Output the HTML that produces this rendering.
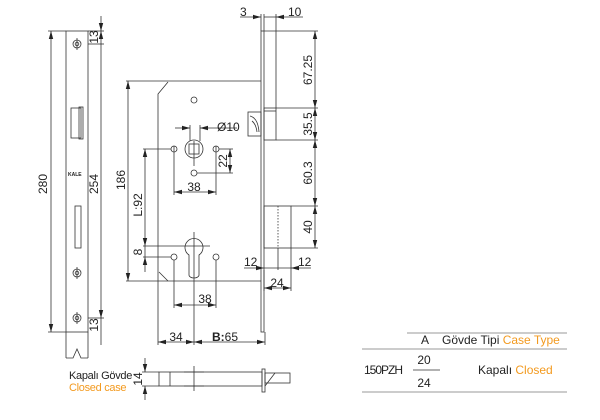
<!DOCTYPE html>
<html><head><meta charset="utf-8"><style>
html,body{margin:0;padding:0;background:#fff;}
svg{display:block;}
text{font-family:"Liberation Sans",sans-serif;font-size:12px;fill:#222;}
.o{fill:#f39a1f;}
</style></head><body>
<svg width="600" height="420" viewBox="0 0 600 420" xmlns="http://www.w3.org/2000/svg">
<defs>
<marker id="a" markerWidth="8" markerHeight="6" refX="8" refY="3" orient="auto-start-reverse" markerUnits="userSpaceOnUse"><path d="M0,0.8 L8,3 L0,5.2z" fill="#222"/></marker>
</defs>
<g stroke="#333" stroke-width="0.8" fill="none">
<rect x="66" y="31" width="22" height="301"/>
<line x1="66" y1="332" x2="66" y2="358"/><line x1="88" y1="332" x2="88" y2="358"/>
<path d="M66,358 L73,358 L77,349 L81,358 L88,358"/>
<circle cx="77" cy="44" r="4"/><circle cx="77" cy="44" r="1.8"/>
<circle cx="77" cy="273" r="4"/><circle cx="77" cy="273" r="1.8"/>
<circle cx="77" cy="318" r="4"/><circle cx="77" cy="318" r="1.8"/>
<line x1="77" y1="38" x2="77" y2="50"/><line x1="77" y1="267" x2="77" y2="279"/><line x1="77" y1="312" x2="77" y2="324"/>
<rect x="71" y="108" width="10" height="30"/><rect x="79" y="107" width="4" height="32"/>
<rect x="75" y="206" width="6" height="42"/>
<line x1="48" y1="31" x2="66" y2="31"/><line x1="48" y1="332" x2="66" y2="332"/>
<line x1="51" y1="31" x2="51" y2="332" marker-start="url(#a)" marker-end="url(#a)"/>
<line x1="88" y1="44" x2="104" y2="44"/><line x1="88" y1="318" x2="104" y2="318"/>
<line x1="101" y1="16" x2="101" y2="31" marker-end="url(#a)"/>
<line x1="101" y1="31" x2="101" y2="318" marker-start="url(#a)" marker-end="url(#a)"/>
<line x1="101" y1="318" x2="101" y2="345"/>
<line x1="88" y1="31" x2="104" y2="31"/>
<line x1="126" y1="81" x2="261" y2="81"/><line x1="126" y1="281" x2="261" y2="281"/>
<line x1="128" y1="81" x2="128" y2="281" marker-start="url(#a)" marker-end="url(#a)"/>
<path d="M168,82 L158,94 L158,345"/><path d="M159,272 L168,281"/>
<rect x="261" y="31" width="3" height="301"/>
<line x1="264" y1="31" x2="318" y2="31"/>
<line x1="276" y1="31" x2="276" y2="108"/>
<rect x="264" y="108" width="12" height="32"/><line x1="264" y1="111" x2="276" y2="111"/>
<line x1="276" y1="108" x2="318" y2="108"/><line x1="276" y1="140" x2="318" y2="140"/>
<rect x="248" y="112" width="13" height="24"/>
<path d="M250,116 Q258,118 259,132 M252,121 Q256,124 257,132"/>
<rect x="264" y="206" width="27" height="42"/>
<line x1="278" y1="206" x2="278" y2="248" stroke-dasharray="1.5,1.5"/>
<line x1="291" y1="206" x2="318" y2="206"/><line x1="291" y1="248" x2="318" y2="248"/>
<line x1="315" y1="31" x2="315" y2="108" marker-start="url(#a)" marker-end="url(#a)"/>
<line x1="315" y1="108" x2="315" y2="140" marker-start="url(#a)" marker-end="url(#a)"/>
<line x1="315" y1="140" x2="315" y2="206" marker-start="url(#a)" marker-end="url(#a)"/>
<line x1="315" y1="206" x2="315" y2="248" marker-start="url(#a)" marker-end="url(#a)"/>
<line x1="261" y1="14" x2="261" y2="31"/><line x1="264" y1="14" x2="264" y2="31"/><line x1="276" y1="14" x2="276" y2="31"/>
<line x1="240" y1="17" x2="261" y2="17" marker-end="url(#a)"/>
<line x1="303" y1="17" x2="276" y2="17" marker-end="url(#a)"/>
<line x1="264" y1="17" x2="276" y2="17"/>
<line x1="278" y1="248" x2="278" y2="270"/><line x1="291" y1="248" x2="291" y2="291"/><line x1="264" y1="270" x2="264" y2="291"/>
<line x1="244" y1="268" x2="264" y2="268" marker-end="url(#a)"/>
<line x1="311" y1="268" x2="291" y2="268" marker-end="url(#a)"/>
<line x1="264" y1="268" x2="291" y2="268"/>
<line x1="264" y1="288" x2="291" y2="288" marker-start="url(#a)" marker-end="url(#a)"/>
<circle cx="194" cy="100" r="3"/>
<circle cx="194" cy="149" r="9"/><rect x="189" y="144" width="10" height="10"/>
<line x1="190" y1="125" x2="190" y2="141"/><line x1="200" y1="125" x2="200" y2="141"/>
<line x1="175" y1="128" x2="190" y2="128" marker-end="url(#a)"/>
<line x1="237" y1="128" x2="200" y2="128" marker-end="url(#a)"/>
<line x1="194" y1="141" x2="194" y2="166"/>
<circle cx="174" cy="149" r="3"/><circle cx="216" cy="149" r="3"/><circle cx="194" cy="173" r="3"/>
<line x1="174" y1="146" x2="174" y2="195"/><line x1="216" y1="146" x2="216" y2="195"/>
<line x1="174" y1="192" x2="216" y2="192" marker-start="url(#a)" marker-end="url(#a)"/>
<line x1="219" y1="149" x2="233" y2="149"/><line x1="197" y1="173" x2="233" y2="173"/>
<line x1="230" y1="149" x2="230" y2="173" marker-start="url(#a)" marker-end="url(#a)"/>
<line x1="143" y1="149" x2="171" y2="149"/>
<line x1="145" y1="149" x2="145" y2="246" marker-start="url(#a)" marker-end="url(#a)"/>
<line x1="145" y1="246" x2="145" y2="257"/>
<line x1="145" y1="257" x2="145" y2="272" marker-start="url(#a)"/>
<line x1="143" y1="246" x2="210" y2="246"/><line x1="143" y1="257" x2="171" y2="257"/>
<path d="M189,275 L189,255 A9,9 0 1 1 199,255 L199,275 A5,3 0 0 1 189,275z"/>
<line x1="194" y1="232" x2="194" y2="345"/>
<circle cx="174" cy="257" r="3"/><circle cx="216" cy="257" r="3"/>
<line x1="174" y1="260" x2="174" y2="308"/><line x1="216" y1="260" x2="216" y2="308"/>
<line x1="174" y1="305" x2="216" y2="305" marker-start="url(#a)" marker-end="url(#a)"/>
<line x1="265" y1="332" x2="265" y2="345"/>
<line x1="158" y1="342" x2="194" y2="342" marker-start="url(#a)" marker-end="url(#a)"/>
<line x1="194" y1="342" x2="265" y2="342" marker-start="url(#a)" marker-end="url(#a)"/>
<rect x="159" y="372" width="103" height="14"/><line x1="170" y1="372" x2="170" y2="386"/>
<line x1="194" y1="366" x2="194" y2="391"/><line x1="184" y1="372" x2="204" y2="372"/><line x1="184" y1="386" x2="204" y2="386"/>
<rect x="262" y="369" width="3" height="23"/>
<rect x="265" y="373" width="25" height="10"/>
<path d="M265,386 L275,373"/>
<line x1="142" y1="372" x2="159" y2="372"/><line x1="142" y1="386" x2="159" y2="386"/>
<line x1="145" y1="358" x2="145" y2="372" marker-end="url(#a)"/>
<line x1="145" y1="400" x2="145" y2="386" marker-end="url(#a)"/>
<line x1="407" y1="333" x2="567" y2="333" stroke="#999" stroke-width="1"/>
<line x1="362" y1="349" x2="567" y2="349" stroke="#999" stroke-width="1"/>
<line x1="362" y1="392" x2="567" y2="392" stroke="#999" stroke-width="1"/>
<line x1="413" y1="370" x2="440" y2="370" stroke="#666" stroke-width="1"/>
</g>
<text x="68" y="176" style="font-size:5px;font-weight:bold">KALE</text>
<text transform="translate(47,184) rotate(-90)" text-anchor="middle">280</text>
<text transform="translate(98,184) rotate(-90)" text-anchor="middle">254</text>
<text transform="translate(98,37) rotate(-90)" text-anchor="middle">13</text>
<text transform="translate(98,325) rotate(-90)" text-anchor="middle">13</text>
<text transform="translate(125,180) rotate(-90)" text-anchor="middle">186</text>
<text transform="translate(142,205) rotate(-90)" text-anchor="middle">L:92</text>
<text transform="translate(142,252) rotate(-90)" text-anchor="middle">8</text>
<text transform="translate(142,379) rotate(-90)" text-anchor="middle">14</text>
<text transform="translate(227,161) rotate(-90)" text-anchor="middle">22</text>
<text transform="translate(312,70) rotate(-90)" text-anchor="middle">67.25</text>
<text transform="translate(312,124) rotate(-90)" text-anchor="middle">35.5</text>
<text transform="translate(312,173) rotate(-90)" text-anchor="middle">60.3</text>
<text transform="translate(312,227) rotate(-90)" text-anchor="middle">40</text>
<text x="217" y="131">Ø10</text>
<text x="194" y="191" text-anchor="middle">38</text>
<text x="205" y="303" text-anchor="middle">38</text>
<text x="240" y="16">3</text>
<text x="288" y="16">10</text>
<text x="244" y="266">12</text>
<text x="298" y="266">12</text>
<text x="277" y="287" text-anchor="middle">24</text>
<text x="176" y="341" text-anchor="middle">34</text>
<text x="212" y="341"><tspan style="font-weight:bold">B:</tspan>65</text>
<text x="69" y="379" style="font-size:11px;letter-spacing:-0.3px">Kapalı Gövde</text>
<text x="69" y="391" class="o" style="font-size:11px;letter-spacing:-0.3px">Closed case</text>
<text x="425" y="344" text-anchor="middle">A</text>
<text x="442" y="344">Gövde Tipi <tspan class="o">Case Type</tspan></text>
<text x="364" y="374" style="letter-spacing:-1px">150PZH</text>
<text x="424" y="364" text-anchor="middle">20</text>
<text x="424" y="387" text-anchor="middle">24</text>
<text x="478" y="374">Kapalı <tspan class="o">Closed</tspan></text>
</svg>
</body></html>
